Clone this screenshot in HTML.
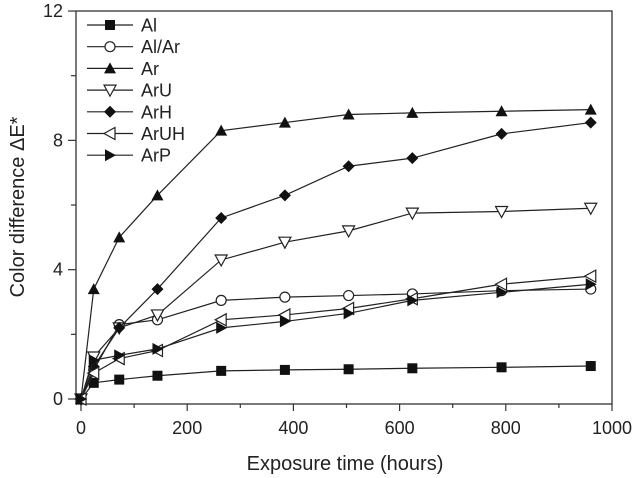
<!DOCTYPE html>
<html><head><meta charset="utf-8"><style>
html,body{margin:0;padding:0;background:#fff;}
svg{display:block;font-family:"Liberation Sans",Arial,sans-serif;}
</style></head><body>
<svg id="chart" width="640" height="478" viewBox="0 0 640 478">
<rect x="76" y="11" width="536" height="393" fill="none" stroke="#333" stroke-width="1.3"/>
<g id="axes"></g>
<g id="series"></g>
<g id="legend"></g>
<text x="345" y="470" font-size="20" text-anchor="middle" fill="#222">Exposure time (hours)</text>
<text transform="translate(24,207) rotate(-90)" font-size="20" text-anchor="middle" fill="#222">Color difference ΔE*</text>
</svg>
<script>
const times = [0, 24, 72, 144, 264, 384, 504, 624, 792, 960];
const seriesNames = ["Al", "Al/Ar", "Ar", "ArU", "ArH", "ArUH", "ArP"];
const alValues = [0, 0.5, 0.6, 0.72, 0.87, 0.9, 0.92, 0.95, 0.98, 1.02];
const alArValues = [0, 0.9, 2.3, 2.45, 3.05, 3.15, 3.2, 3.25, 3.35, 3.4];
const arValues = [0, 3.4, 5.0, 6.3, 8.3, 8.55, 8.8, 8.85, 8.9, 8.95];
const arUValues = [0, 1.3, 2.2, 2.6, 4.3, 4.85, 5.2, 5.75, 5.8, 5.9];
const arHValues = [0, 1.0, 2.2, 3.4, 5.6, 6.3, 7.2, 7.45, 8.2, 8.55];
const arUHValues = [0, 0.8, 1.25, 1.5, 2.45, 2.6, 2.8, 3.1, 3.55, 3.8];
const arPValues = [0, 1.2, 1.35, 1.55, 2.2, 2.4, 2.65, 3.05, 3.3, 3.55];
const xTickLabels = [0, 200, 400, 600, 800, 1000];
const yTickLabels = [0, 4, 8, 12];

const NS = "http://www.w3.org/2000/svg";
const X = v => 81 + v * 0.531;
const Y = v => 399 - v * 32.33;
function mk(tag, attrs, parent){const e=document.createElementNS(NS,tag);for(const k in attrs)e.setAttribute(k,attrs[k]);parent.appendChild(e);return e;}
const axes = document.getElementById("axes");
for (let v = 0; v <= 1000; v += 100) {
  const t = mk("line", {x1:X(v), x2:X(v), y1:404, y2:v%200===0?411:408, stroke:"#333", "stroke-width":1.2}, axes);
  
  
}
xTickLabels.forEach(v => {
  const t = mk("text", {x:X(v), y:434, "font-size":18, "text-anchor":"middle", fill:"#222"}, axes);
  t.textContent = v;
  
  
});
for (let v = 0; v <= 12; v += 2) {
  const t = mk("line", {x1:v%4===0?68:71, x2:76, y1:Y(v), y2:Y(v), stroke:"#333", "stroke-width":1.2}, axes);
  
  
}
yTickLabels.forEach(v => {
  const t = mk("text", {x:63, y:Y(v)+6, "font-size":18, "text-anchor":"end", fill:"#222"}, axes);
  t.textContent = v;
  
  
});

function marker(type, cx, cy, g){
  const s = 6;
  let e;
  if (type === "sq") e = mk("rect", {x:cx-5, y:cy-5, width:10, height:10, fill:"#111"}, g);
  else if (type === "circ") e = mk("circle", {cx:cx, cy:cy, r:5, fill:"#fff", stroke:"#222", "stroke-width":1.2}, g);
  else if (type === "up") e = mk("polygon", {points:`${cx},${cy-s} ${cx-s},${cy+5} ${cx+s},${cy+5}`, fill:"#111"}, g);
  else if (type === "down") e = mk("polygon", {points:`${cx-s},${cy-5} ${cx+s},${cy-5} ${cx},${cy+s}`, fill:"#fff", stroke:"#222", "stroke-width":1.2}, g);
  else if (type === "dia") e = mk("polygon", {points:`${cx},${cy-s} ${cx+s},${cy} ${cx},${cy+s} ${cx-s},${cy}`, fill:"#111"}, g);
  else if (type === "left") e = mk("polygon", {points:`${cx-s},${cy} ${cx+5},${cy-s} ${cx+5},${cy+s}`, fill:"#fff", stroke:"#222", "stroke-width":1.2}, g);
  else e = mk("polygon", {points:`${cx+s},${cy} ${cx-5},${cy-s} ${cx-5},${cy+s}`, fill:"#111"}, g);
  
  
}
const allValues = [alValues, alArValues, arValues, arUValues, arHValues, arUHValues, arPValues];
const markers = ["sq", "circ", "up", "down", "dia", "left", "right"];
const sg = document.getElementById("series");
allValues.forEach((vals, i) => {
  const g = mk("g", {}, sg);
  
  
  const pl = mk("polyline", {points: vals.map((v, j) => X(times[j]) + "," + Y(v)).join(" "), fill:"none", stroke:"#222", "stroke-width":1.2}, g);
  
  
  vals.forEach((v, j) => marker(markers[i], X(times[j]), Y(v), g));
});
const lg = document.getElementById("legend");
seriesNames.forEach((n, i) => {
  const y = 25 + i * 21.7;
  const g = mk("g", {}, lg);
  
  
  mk("line", {x1:87, x2:133, y1:y, y2:y, stroke:"#222", "stroke-width":1.2}, g);
  marker(markers[i], 110, y, g);
  const t = mk("text", {x:141, y:y+6.5, "font-size":18, fill:"#222"}, g);
  t.textContent = n;
  
  
});
</script>
</body></html>
